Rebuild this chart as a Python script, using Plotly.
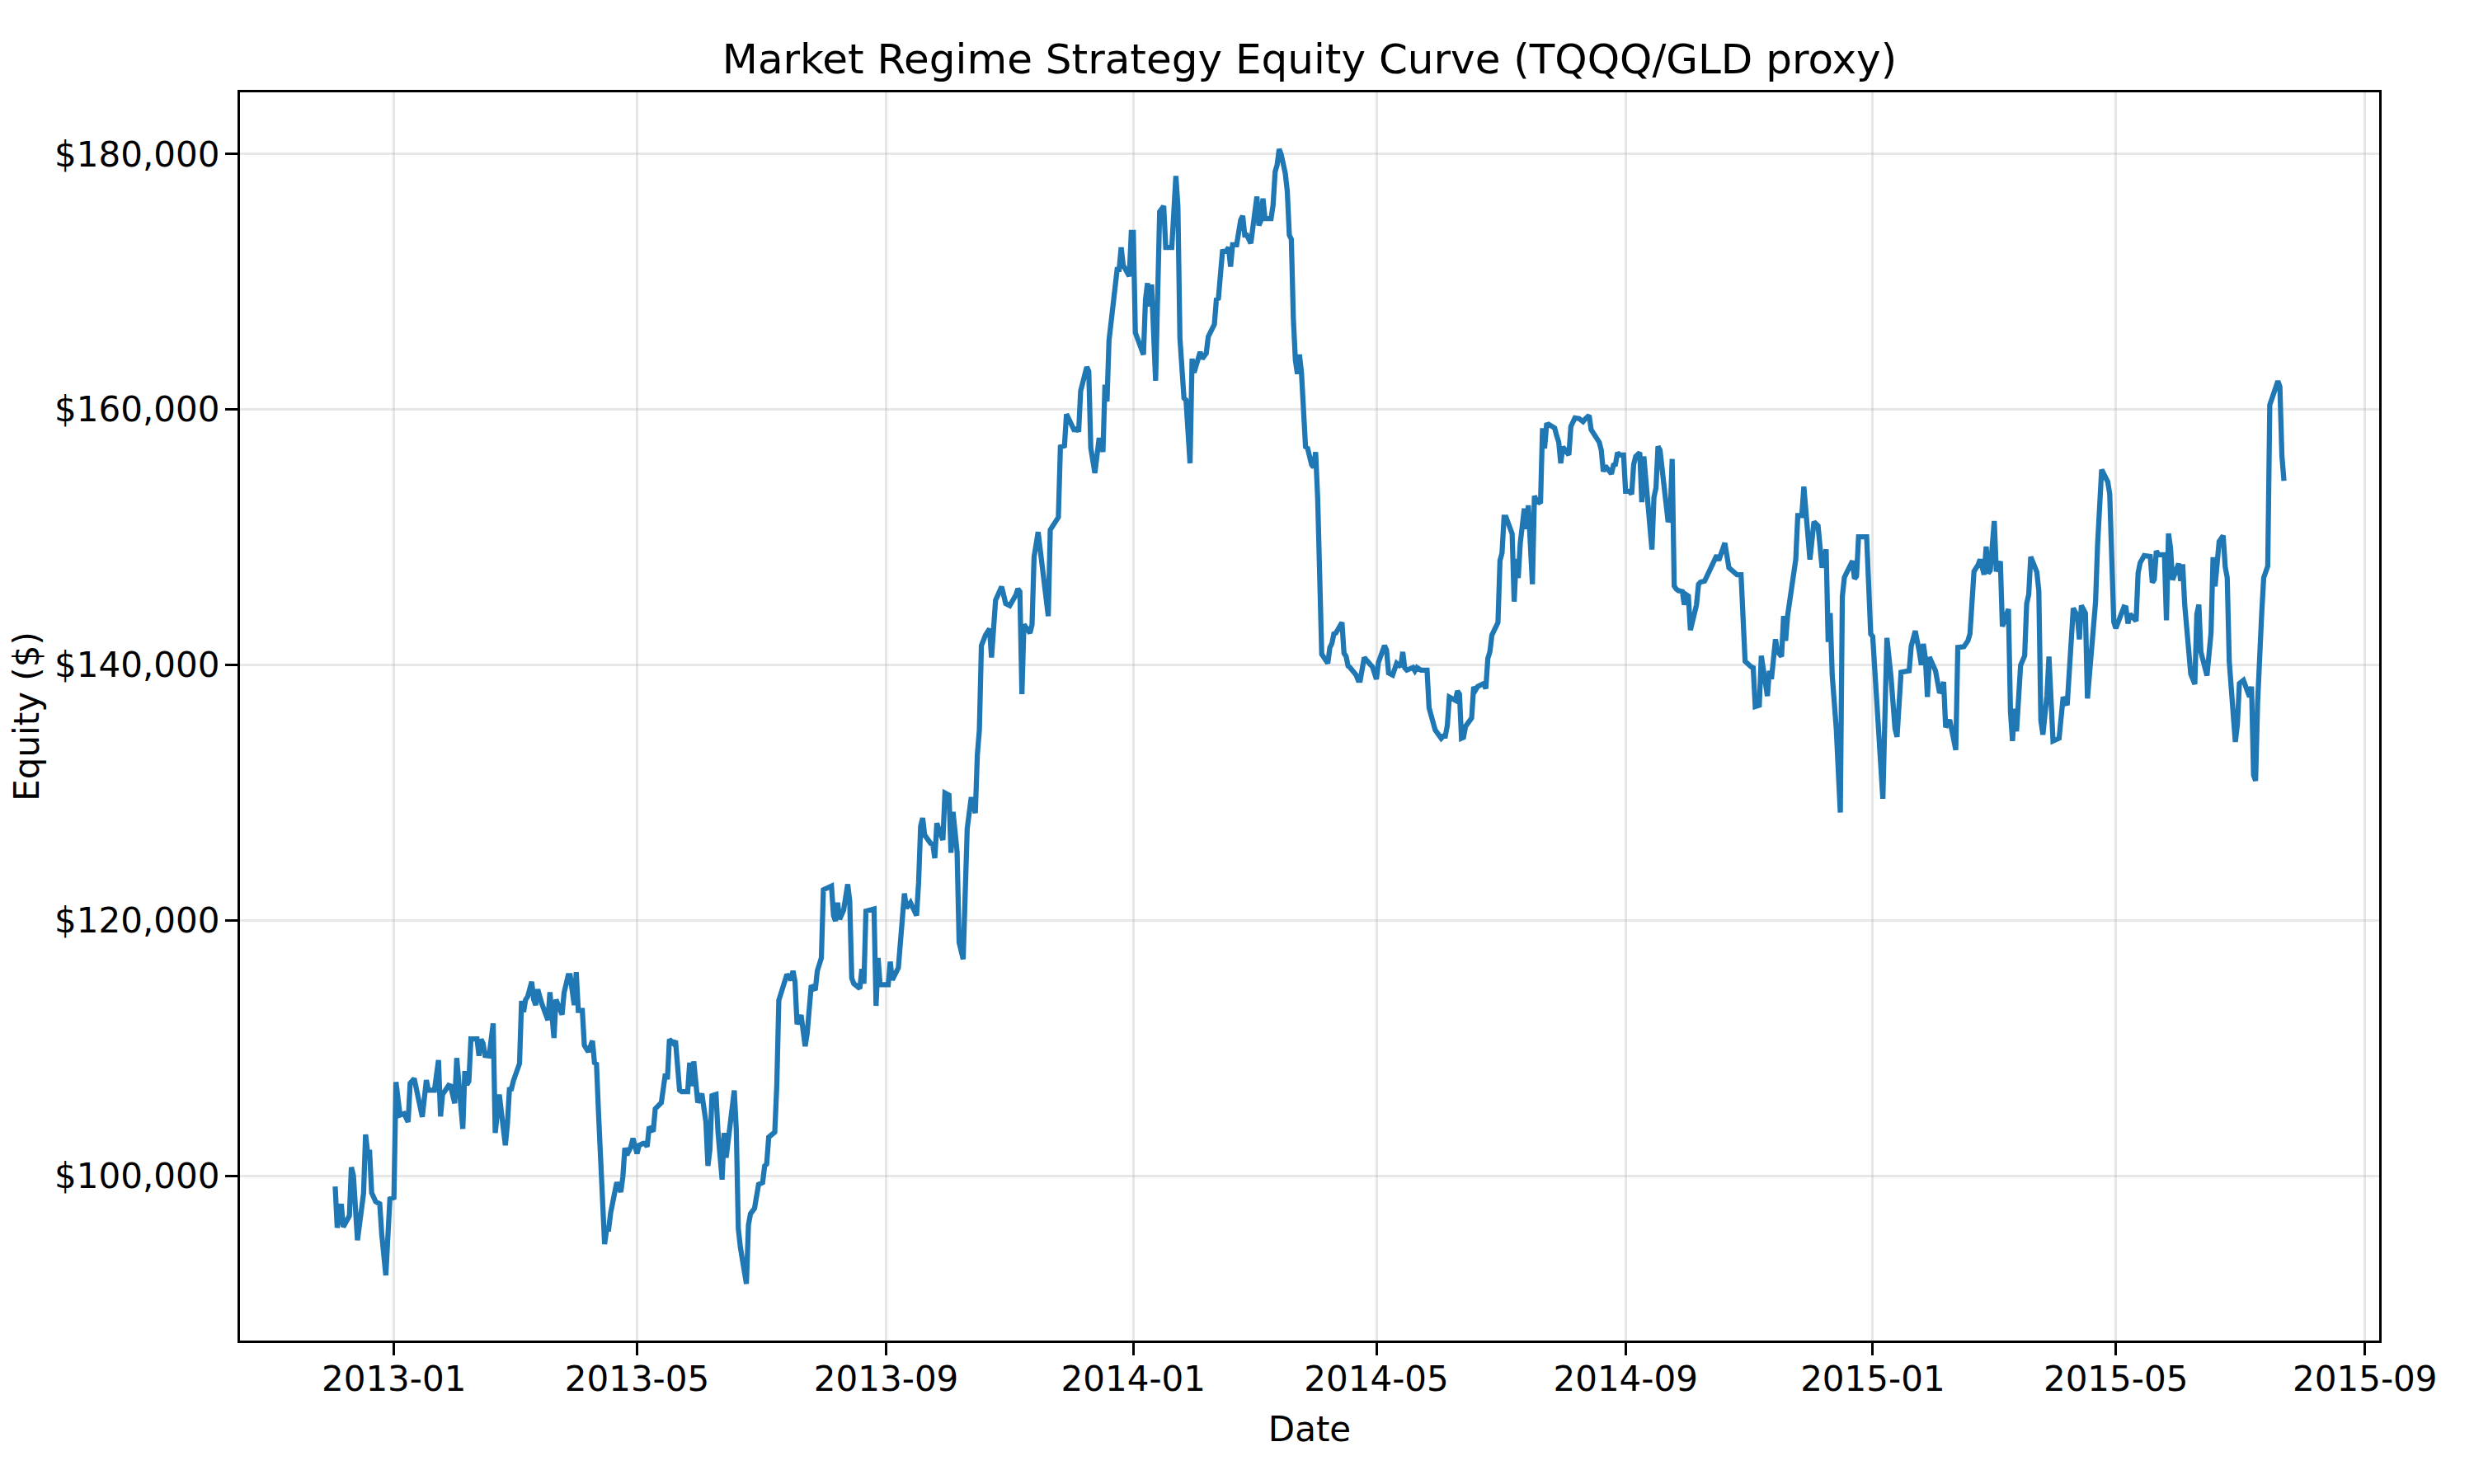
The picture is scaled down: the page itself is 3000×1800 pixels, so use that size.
import plotly.graph_objects as go

title_text = "Market Regime Strategy Equity Curve (TQQQ/GLD proxy)"
x_label = "Date"
y_label = "Equity ($)"
y_ticks = [100000, 120000, 140000, 160000, 180000]
y_tick_text = ["$100,000", "$120,000", "$140,000", "$160,000", "$180,000"]

dates = [
    "2012-12-03", "2012-12-04", "2012-12-06", "2012-12-07", "2012-12-10", "2012-12-11", "2012-12-12", "2012-12-14",
    "2012-12-17", "2012-12-18", "2012-12-19", "2012-12-20", "2012-12-21", "2012-12-23", "2012-12-25", "2012-12-26",
    "2012-12-28", "2012-12-30", "2013-01-01", "2013-01-02", "2013-01-04", "2013-01-06", "2013-01-08", "2013-01-09",
    "2013-01-11", "2013-01-12", "2013-01-15", "2013-01-17", "2013-01-18", "2013-01-21", "2013-01-23", "2013-01-24",
    "2013-01-25", "2013-01-28", "2013-01-29", "2013-01-31", "2013-02-01", "2013-02-04", "2013-02-05", "2013-02-06",
    "2013-02-07", "2013-02-08", "2013-02-11", "2013-02-12", "2013-02-13", "2013-02-14", "2013-02-15", "2013-02-17",
    "2013-02-19", "2013-02-20", "2013-02-22", "2013-02-25", "2013-02-26", "2013-02-27", "2013-02-28", "2013-03-01",
    "2013-03-04", "2013-03-05", "2013-03-06", "2013-03-07", "2013-03-08", "2013-03-10", "2013-03-11", "2013-03-12",
    "2013-03-13", "2013-03-15", "2013-03-17", "2013-03-18", "2013-03-19", "2013-03-21", "2013-03-22", "2013-03-23",
    "2013-03-25", "2013-03-26", "2013-03-28", "2013-03-29", "2013-03-31", "2013-04-01", "2013-04-02", "2013-04-04",
    "2013-04-05", "2013-04-07", "2013-04-09", "2013-04-10", "2013-04-11", "2013-04-12", "2013-04-15", "2013-04-16",
    "2013-04-17", "2013-04-18", "2013-04-19", "2013-04-21", "2013-04-23", "2013-04-24", "2013-04-25", "2013-04-26",
    "2013-04-28", "2013-04-29", "2013-05-01", "2013-05-02", "2013-05-04", "2013-05-05", "2013-05-06", "2013-05-07",
    "2013-05-09", "2013-05-10", "2013-05-13", "2013-05-14", "2013-05-15", "2013-05-16", "2013-05-17", "2013-05-19",
    "2013-05-20", "2013-05-22", "2013-05-23", "2013-05-26", "2013-05-27", "2013-05-28", "2013-05-29", "2013-05-31",
    "2013-06-02", "2013-06-04", "2013-06-05", "2013-06-06", "2013-06-07", "2013-06-09", "2013-06-10", "2013-06-12",
    "2013-06-13", "2013-06-14", "2013-06-16", "2013-06-18", "2013-06-19", "2013-06-20", "2013-06-21", "2013-06-24",
    "2013-06-25", "2013-06-26", "2013-06-28", "2013-06-30", "2013-07-02", "2013-07-03", "2013-07-04", "2013-07-05",
    "2013-07-08", "2013-07-09", "2013-07-10", "2013-07-12", "2013-07-14", "2013-07-16", "2013-07-17", "2013-07-18",
    "2013-07-19", "2013-07-21", "2013-07-23", "2013-07-24", "2013-07-26", "2013-07-28", "2013-07-29", "2013-07-31",
    "2013-08-01", "2013-08-05", "2013-08-06", "2013-08-07", "2013-08-08", "2013-08-09", "2013-08-11", "2013-08-13",
    "2013-08-14", "2013-08-15", "2013-08-16", "2013-08-19", "2013-08-20", "2013-08-21", "2013-08-22", "2013-08-26",
    "2013-08-27", "2013-08-28", "2013-08-29", "2013-09-02", "2013-09-03", "2013-09-04", "2013-09-07", "2013-09-10",
    "2013-09-11", "2013-09-13", "2013-09-16", "2013-09-17", "2013-09-18", "2013-09-19", "2013-09-20", "2013-09-23",
    "2013-09-24", "2013-09-25", "2013-09-26", "2013-09-28", "2013-09-29", "2013-09-30", "2013-10-02", "2013-10-03",
    "2013-10-04", "2013-10-06", "2013-10-07", "2013-10-09", "2013-10-10", "2013-10-11", "2013-10-13", "2013-10-15",
    "2013-10-16", "2013-10-17", "2013-10-18", "2013-10-20", "2013-10-22", "2013-10-23", "2013-10-25", "2013-10-26",
    "2013-10-28", "2013-10-30", "2013-11-01", "2013-11-04", "2013-11-05", "2013-11-06", "2013-11-07", "2013-11-08",
    "2013-11-11", "2013-11-12", "2013-11-13", "2013-11-15", "2013-11-20", "2013-11-21", "2013-11-25", "2013-11-26",
    "2013-11-28", "2013-11-29", "2013-12-03", "2013-12-04", "2013-12-05", "2013-12-06", "2013-12-09", "2013-12-10",
    "2013-12-11", "2013-12-13", "2013-12-15", "2013-12-16", "2013-12-17", "2013-12-18", "2013-12-19", "2013-12-20",
    "2013-12-22", "2013-12-24", "2013-12-25", "2013-12-26", "2013-12-27", "2013-12-30", "2013-12-31", "2014-01-01",
    "2014-01-02", "2014-01-06", "2014-01-07", "2014-01-08", "2014-01-09", "2014-01-10", "2014-01-12", "2014-01-14",
    "2014-01-16", "2014-01-17", "2014-01-20", "2014-01-22", "2014-01-23", "2014-01-24", "2014-01-26", "2014-01-27",
    "2014-01-29", "2014-01-30", "2014-01-31", "2014-02-03", "2014-02-04", "2014-02-05", "2014-02-06", "2014-02-07",
    "2014-02-10", "2014-02-11", "2014-02-12", "2014-02-14", "2014-02-16", "2014-02-17", "2014-02-18", "2014-02-19",
    "2014-02-21", "2014-02-23", "2014-02-24", "2014-02-25", "2014-02-26", "2014-02-28", "2014-03-03", "2014-03-04",
    "2014-03-05", "2014-03-06", "2014-03-07", "2014-03-10", "2014-03-11", "2014-03-12", "2014-03-13", "2014-03-14",
    "2014-03-15", "2014-03-17", "2014-03-18", "2014-03-19", "2014-03-20", "2014-03-21", "2014-03-22", "2014-03-23",
    "2014-03-24", "2014-03-25", "2014-03-27", "2014-03-28", "2014-03-30", "2014-03-31", "2014-04-01", "2014-04-02",
    "2014-04-04", "2014-04-07", "2014-04-08", "2014-04-09", "2014-04-10", "2014-04-11", "2014-04-14", "2014-04-15",
    "2014-04-16", "2014-04-17", "2014-04-18", "2014-04-21", "2014-04-22", "2014-04-23", "2014-04-25", "2014-04-28",
    "2014-04-29", "2014-05-01", "2014-05-02", "2014-05-05", "2014-05-06", "2014-05-07", "2014-05-09", "2014-05-11",
    "2014-05-13", "2014-05-14", "2014-05-15", "2014-05-16", "2014-05-19", "2014-05-20", "2014-05-21", "2014-05-23",
    "2014-05-26", "2014-05-27", "2014-05-28", "2014-05-29", "2014-05-30", "2014-06-02", "2014-06-03", "2014-06-04",
    "2014-06-05", "2014-06-06", "2014-06-08", "2014-06-09", "2014-06-10", "2014-06-11", "2014-06-12", "2014-06-13",
    "2014-06-14", "2014-06-17", "2014-06-18", "2014-06-19", "2014-06-20", "2014-06-23", "2014-06-24", "2014-06-25",
    "2014-06-26", "2014-06-27", "2014-06-30", "2014-07-01", "2014-07-02", "2014-07-03", "2014-07-04", "2014-07-07",
    "2014-07-08", "2014-07-09", "2014-07-10", "2014-07-11", "2014-07-13", "2014-07-14", "2014-07-15", "2014-07-17",
    "2014-07-18", "2014-07-19", "2014-07-21", "2014-07-22", "2014-07-23", "2014-07-24", "2014-07-25", "2014-07-28",
    "2014-07-29", "2014-07-30", "2014-07-31", "2014-08-01", "2014-08-02", "2014-08-04", "2014-08-05", "2014-08-07",
    "2014-08-09", "2014-08-11", "2014-08-12", "2014-08-14", "2014-08-15", "2014-08-18", "2014-08-19", "2014-08-20",
    "2014-08-21", "2014-08-22", "2014-08-24", "2014-08-25", "2014-08-26", "2014-08-27", "2014-08-28", "2014-08-29",
    "2014-08-31", "2014-09-01", "2014-09-03", "2014-09-04", "2014-09-05", "2014-09-06", "2014-09-08", "2014-09-09",
    "2014-09-10", "2014-09-11", "2014-09-14", "2014-09-15", "2014-09-16", "2014-09-17", "2014-09-18", "2014-09-22",
    "2014-09-23", "2014-09-24", "2014-09-25", "2014-09-26", "2014-09-27", "2014-09-29", "2014-09-30", "2014-10-01",
    "2014-10-02", "2014-10-03", "2014-10-06", "2014-10-07", "2014-10-08", "2014-10-10", "2014-10-13", "2014-10-14",
    "2014-10-16", "2014-10-17", "2014-10-20", "2014-10-22", "2014-10-24", "2014-10-26", "2014-10-28", "2014-10-29",
    "2014-10-30", "2014-11-02", "2014-11-03", "2014-11-04", "2014-11-06", "2014-11-07", "2014-11-08", "2014-11-10",
    "2014-11-11", "2014-11-12", "2014-11-14", "2014-11-15", "2014-11-17", "2014-11-18", "2014-11-19", "2014-11-20",
    "2014-11-24", "2014-11-25", "2014-11-27", "2014-11-28", "2014-12-01", "2014-12-03", "2014-12-05", "2014-12-07",
    "2014-12-09", "2014-12-10", "2014-12-11", "2014-12-12", "2014-12-14", "2014-12-16", "2014-12-17", "2014-12-18",
    "2014-12-22", "2014-12-23", "2014-12-24", "2014-12-25", "2014-12-29", "2014-12-31", "2015-01-01", "2015-01-04",
    "2015-01-06", "2015-01-08", "2015-01-10", "2015-01-12", "2015-01-13", "2015-01-15", "2015-01-19", "2015-01-20",
    "2015-01-22", "2015-01-24", "2015-01-25", "2015-01-26", "2015-01-27", "2015-01-28", "2015-01-29", "2015-02-01",
    "2015-02-03", "2015-02-04", "2015-02-05", "2015-02-06", "2015-02-08", "2015-02-11", "2015-02-12", "2015-02-15",
    "2015-02-17", "2015-02-18", "2015-02-20", "2015-02-22", "2015-02-23", "2015-02-25", "2015-02-26", "2015-02-27",
    "2015-02-28", "2015-03-02", "2015-03-03", "2015-03-05", "2015-03-06", "2015-03-09", "2015-03-10", "2015-03-11",
    "2015-03-12", "2015-03-13", "2015-03-14", "2015-03-15", "2015-03-17", "2015-03-18", "2015-03-19", "2015-03-20",
    "2015-03-23", "2015-03-24", "2015-03-25", "2015-03-26", "2015-03-28", "2015-03-29", "2015-03-31", "2015-04-02",
    "2015-04-03", "2015-04-05", "2015-04-07", "2015-04-10", "2015-04-12", "2015-04-13", "2015-04-14", "2015-04-16",
    "2015-04-17", "2015-04-21", "2015-04-22", "2015-04-24", "2015-04-27", "2015-04-28", "2015-04-30", "2015-05-01",
    "2015-05-05", "2015-05-06", "2015-05-07", "2015-05-08", "2015-05-11", "2015-05-12", "2015-05-13", "2015-05-15",
    "2015-05-18", "2015-05-19", "2015-05-20", "2015-05-21", "2015-05-22", "2015-05-25", "2015-05-26", "2015-05-27",
    "2015-05-28", "2015-05-29", "2015-06-01", "2015-06-02", "2015-06-03", "2015-06-04", "2015-06-07", "2015-06-09",
    "2015-06-10", "2015-06-11", "2015-06-12", "2015-06-15", "2015-06-16", "2015-06-17", "2015-06-18", "2015-06-19",
    "2015-06-21", "2015-06-23", "2015-06-24", "2015-06-25", "2015-06-26", "2015-06-28", "2015-06-29", "2015-06-30",
    "2015-07-01", "2015-07-03", "2015-07-05", "2015-07-06", "2015-07-07", "2015-07-08", "2015-07-09", "2015-07-10",
    "2015-07-12", "2015-07-13", "2015-07-15", "2015-07-16", "2015-07-20", "2015-07-21", "2015-07-22", "2015-07-23",
]

equity = [
    99160, 95930, 97800, 96000, 96860, 100670, 100020, 94960,
    98620, 103230, 101850, 101850, 98670, 97980, 97800, 95390,
    92210, 98190, 98300, 107340, 104760, 104870, 104220, 107240,
    107620, 106910, 104610, 107490, 106700, 106700, 109060, 104650,
    106370, 107080, 107020, 105680, 109220, 103680, 108200, 107130,
    107410, 110720, 110720, 109390, 110680, 110360, 109430, 109390,
    111930, 103360, 106370, 102390, 104010, 106760, 106800, 107450,
    108790, 113690, 112830, 113800, 114020, 115200, 113800, 113370,
    114600, 113480, 112730, 112190, 114380, 110790, 113800, 113480,
    112620, 114340, 115670, 115670, 113370, 115950, 112940, 112940,
    110210, 109710, 110570, 108850, 108740, 104870, 94640, 95820,
    95820, 97120, 97980, 99480, 98730, 99910, 102180, 101640,
    102280, 102930, 101740, 102390, 102540, 102540, 102280, 103830,
    103470, 105250, 105730, 107340, 107990, 107560, 110680, 110360,
    110570, 106700, 106590, 106590, 108850, 107020, 108960, 105730,
    106440, 104220, 100780, 102070, 106270, 106370, 103360, 99700,
    103360, 101420, 104010, 106680, 103650, 95870, 94420, 91540,
    96150, 97020, 97450, 99330, 99470, 100770, 100910, 103020,
    103420, 107110, 113750, 114900, 115770, 115330, 116050, 115190,
    111870, 112590, 110140, 111150, 114900, 114550, 116050, 117060,
    122400, 122690, 120380, 119950, 121390, 120090, 120810, 122830,
    121530, 115480, 115050, 114670, 116200, 115050, 120730, 120900,
    113310, 117060, 114960, 114960, 116770, 115330, 116280, 122110,
    120960, 121390, 120380, 122980, 127360, 128020, 126680, 126020,
    125960, 124870, 127610, 126680, 126290, 129980, 129810, 125300,
    128500, 125360, 118280, 116960, 124380, 127180, 129650, 128400,
    132950, 134920, 141510, 142340, 142830, 140590, 145070, 145470,
    146130, 144810, 144650, 145470, 145960, 145730, 137720, 143160,
    142500, 143160, 148440, 150410, 143820, 150580, 151570, 157070,
    157170, 159640, 158320, 158590, 158260, 161460, 163330, 163000,
    157010, 155030, 157600, 157600, 156680, 161950, 160630, 165410,
    168170, 170970, 170970, 172700, 171300, 170440, 173880, 173880,
    166020, 164300, 168610, 169900, 168070, 169790, 162250, 175490,
    175930, 172700, 172700, 178290, 175930, 165590, 160900, 160750,
    155790, 163980, 162900, 164510, 163980, 164300, 164410, 165700,
    166670, 168610, 168710, 172370, 172440, 172700, 171190, 172910,
    172910, 174850, 175170, 173670, 173670, 173020, 176680, 174420,
    174810, 176530, 174960, 174960, 176030, 178620, 179160, 180400,
    179970, 178510, 177110, 173670, 173340, 167100, 163870, 162790,
    164300, 162900, 157090, 156980, 155690, 155470, 156660, 153050,
    140850, 140130, 141350, 141680, 142440, 142500, 143330, 140920,
    140690, 139930, 139800, 139210, 138810, 138810, 140590, 140030,
    139870, 138880, 140200, 141510, 141180, 139370, 139210, 140130,
    139870, 141020, 139770, 139600, 139800, 139540, 139800, 139600,
    139600, 136640, 135910, 135420, 134920, 134260, 134430, 134430,
    135250, 137490, 137300, 137230, 137960, 137720, 134260, 134330,
    135190, 135850, 138280, 138050, 138320, 138550, 138150, 140520,
    141020, 142340, 143330, 148170, 148770, 151570, 151570, 150270,
    144960, 148300, 146810, 149530, 152250, 150640, 152500, 146320,
    153240, 152870, 152670, 158550, 156950, 158800, 158850, 158550,
    157940, 157440, 155790, 157070, 156870, 156450, 158680, 159350,
    159300, 159050, 159250, 159540, 158430, 157810, 157440, 156820,
    155140, 155590, 155140, 154970, 155640, 155710, 156630, 156450,
    156450, 153610, 153610, 153360, 155710, 156330, 156630, 152750,
    156330, 154480, 149040, 153120, 153860, 157120, 156820, 151190,
    151630, 156130, 146190, 145950, 145820, 145750, 144710, 145500,
    145400, 142730, 144710, 146320, 146490, 146570, 147610, 147890,
    148580, 148190, 149550, 147610, 147330, 147070, 147070, 143630,
    140290, 139860, 139790, 136740, 136840, 140720, 139430, 137560,
    139540, 138890, 142010, 141040, 140660, 143840, 141900, 143890,
    148260, 151700, 151700, 153960, 148260, 151210, 150900, 147610,
    149050, 141800, 144060, 139210, 135020, 128450, 145350, 146860,
    148150, 146750, 146960, 150040, 150040, 142440, 142230, 134800,
    129520, 142120, 139110, 135020, 134370, 139430, 139540, 141470,
    142660, 141040, 140010, 141650, 140510, 137490, 140610, 139540,
    137810, 138030, 138680, 135120, 135700, 133340, 141370, 141430,
    141900, 142440, 147330, 147830, 148260, 147070, 149270, 147180,
    147390, 151270, 147330, 148110, 143020, 144380, 136310, 134050,
    136570, 134800, 137170, 139970, 140720, 144810, 145520, 148470,
    147290, 145780, 135660, 134540, 137600, 140660, 134050, 134200,
    134260, 137490, 136850, 144450, 143840, 142010, 144660, 144060,
    137380, 144920, 149440, 155300, 154350, 153380, 143370, 142870,
    144530, 144480, 143240, 143990, 143440, 147200, 147990, 148560,
    148490, 146460, 146710, 148930, 148630, 148630, 143490, 150290,
    149180, 146660, 147940, 146580, 147890, 144730, 139290, 138500,
    143990, 144730, 141020, 139170, 141270, 142500, 148440, 146160,
    149670, 150120, 147690, 146830, 140280, 136570, 133970, 135330,
    138550, 138800, 137810, 137510, 138300, 131380, 130930, 137060,
    143990, 146830, 147740, 160350, 162230, 161780, 156350, 154420,
]

LINE = "#1f77b4"
GRID = "rgba(176,176,176,0.3)"
FONT = "DejaVu Sans"

fig = go.Figure()
fig.add_trace(go.Scatter(x=dates, y=equity, mode="lines",
                         line=dict(color=LINE, width=6.25), showlegend=False))

fig.update_layout(
    width=3000, height=1800,
    margin=dict(l=283, r=123, t=104, b=182),
    paper_bgcolor="white", plot_bgcolor="white",
    font=dict(family=FONT, size=42, color="black"),
    title=dict(text=title_text, x=0.5, xref="paper", xanchor="center",
               y=1 - 63 / 1800, yref="container", yanchor="middle",
               font=dict(family=FONT, size=50, color="black")),
    showlegend=False,
)

fig.update_xaxes(
    type="date", automargin=False,
    range=["2012-10-17", "2015-09-08"],
    tick0="2013-01-01", dtick="M4", tickformat="%Y-%m",
    showgrid=True, gridcolor=GRID, gridwidth=3.3,
    showline=True, linecolor="black", linewidth=3.3, mirror=True,
    ticks="outside", ticklen=15, tickwidth=3.3, tickcolor="black",
    ticklabelstandoff=-8,
    tickfont=dict(family=FONT, size=42, color="black"),
    title=dict(text=x_label, standoff=24, font=dict(family=FONT, size=42, color="black")),
    zeroline=False,
)

fig.update_yaxes(
    automargin=False,
    range=[87100, 184840],
    tickmode="array", tickvals=y_ticks, ticktext=y_tick_text,
    showgrid=True, gridcolor=GRID, gridwidth=3.3,
    showline=True, linecolor="black", linewidth=3.3, mirror=True,
    ticks="outside", ticklen=15, tickwidth=3.3, tickcolor="black",
    ticklabelstandoff=-2,
    tickfont=dict(family=FONT, size=42, color="black"),
    title=dict(text=y_label, standoff=18, font=dict(family=FONT, size=42, color="black")),
    zeroline=False,
)

fig.write_html("out.html")
